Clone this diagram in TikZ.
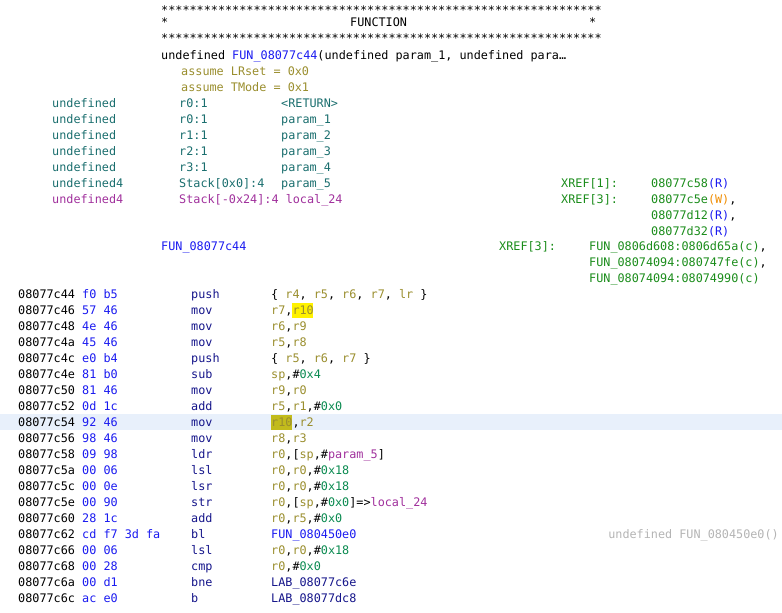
\documentclass[tikz,border=0pt]{standalone}
\usepackage{fontspec}
\setmonofont{DejaVu Sans Mono}
\definecolor{teal}{HTML}{1A6E6E}
\definecolor{olv}{HTML}{9A8E2E}
\definecolor{imm}{HTML}{0A8A50}
\definecolor{blu}{HTML}{1A1AF0}
\definecolor{navy}{HTML}{15158A}
\definecolor{mag}{HTML}{A0309C}
\definecolor{xgrn}{HTML}{1A8C1A}
\definecolor{org}{HTML}{F08C00}
\definecolor{gry}{HTML}{B4B4B4}
\definecolor{rowhl}{HTML}{E8F0FB}
\newcommand{\rg}[1]{\textcolor{olv}{#1}}
\newcommand{\im}[1]{\textcolor{imm}{#1}}
\begin{document}
\begin{tikzpicture}[x=1pt,y=-1pt,
  txt/.style={anchor=base west,inner sep=0pt,font=\ttfamily\fontsize{11.8}{14}\selectfont}]
		\useasboundingbox (0,0) rectangle (782,613);
		\fill[rowhl] (0,414) rectangle (782,430);
		\fill[yellow] (292,303) rectangle (313,318);
		\fill[olv!60!yellow] (271,415) rectangle (292,430);

		% header
		\node[txt] at (161,14) {**************************************************************};
		\node[txt] at (161,26) {*};
		\node[txt] at (350,26) {FUNCTION};
		\node[txt] at (589,26) {*};
		\node[txt] at (161,42) {**************************************************************};
		\node[txt] at (161,59) {undefined \textcolor{blu}{FUN\_08077c44}(undefined param\_1, undefined para\ldots};
		\node[txt,olv] at (181,75) {assume LRset = 0x0};
		\node[txt,olv] at (181,91) {assume TMode = 0x1};

		\node[txt,teal] at (52,107) {undefined};  \node[txt,teal] at (179,107) {r0:1};  \node[txt,teal] at (281,107) {<RETURN>};
		\node[txt,teal] at (52,123) {undefined};  \node[txt,teal] at (179,123) {r0:1};  \node[txt,teal] at (281,123) {param\_1};
		\node[txt,teal] at (52,139) {undefined};  \node[txt,teal] at (179,139) {r1:1};  \node[txt,teal] at (281,139) {param\_2};
		\node[txt,teal] at (52,155) {undefined};  \node[txt,teal] at (179,155) {r2:1};  \node[txt,teal] at (281,155) {param\_3};
		\node[txt,teal] at (52,171) {undefined};  \node[txt,teal] at (179,171) {r3:1};  \node[txt,teal] at (281,171) {param\_4};
		\node[txt,teal] at (52,187) {undefined4}; \node[txt,teal] at (179,187) {Stack[0x0]:4}; \node[txt,teal] at (281,187) {param\_5};
		\node[txt,mag] at (52,203) {undefined4};  \node[txt,mag] at (179,203) {Stack[-0x24]:4 local\_24};

		% xrefs
		\node[txt,xgrn] at (561,187) {XREF[1]:};
		\node[txt,xgrn] at (651,187) {08077c58\textcolor{blu}{(R)}};
		\node[txt,xgrn] at (561,203) {XREF[3]:};
		\node[txt,xgrn] at (651,203) {08077c5e\textcolor{org}{(W)}\textcolor{black}{,}};
		\node[txt,xgrn] at (651,219) {08077d12\textcolor{blu}{(R)}\textcolor{black}{,}};
		\node[txt,xgrn] at (651,235) {08077d32\textcolor{blu}{(R)}};

		\node[txt,blu] at (161,250) {FUN\_08077c44};
		\node[txt,xgrn] at (499,250) {XREF[3]:};
		\node[txt,xgrn] at (589,250) {FUN\_0806d608:0806d65a(c)\textcolor{black}{,}};
		\node[txt,xgrn] at (589,266) {FUN\_08074094:080747fe(c)\textcolor{black}{,}};
		\node[txt,xgrn] at (589,282) {FUN\_08074094:08074990(c)};

		% listing
		\foreach \y/\ad/\by/\mn/\op in {
			298/44/f0 b5/push/{\{ \rg{r4}, \rg{r5}, \rg{r6}, \rg{r7}, \rg{lr} \}},
			314/46/57 46/mov/{\rg{r7},\rg{r10}},
			330/48/4e 46/mov/{\rg{r6},\rg{r9}},
			346/4a/45 46/mov/{\rg{r5},\rg{r8}},
			362/4c/e0 b4/push/{\{ \rg{r5}, \rg{r6}, \rg{r7} \}},
			378/4e/81 b0/sub/{\rg{sp},\#\im{0x4}},
			394/50/81 46/mov/{\rg{r9},\rg{r0}},
			410/52/0d 1c/add/{\rg{r5},\rg{r1},\#\im{0x0}},
			426/54/92 46/mov/{\rg{r10},\rg{r2}},
			442/56/98 46/mov/{\rg{r8},\rg{r3}},
			458/58/09 98/ldr/{\rg{r0},[\rg{sp},\#\textcolor{mag}{param\_5}]},
			474/5a/00 06/lsl/{\rg{r0},\rg{r0},\#\im{0x18}},
			490/5c/00 0e/lsr/{\rg{r0},\rg{r0},\#\im{0x18}},
			506/5e/00 90/str/{\rg{r0},[\rg{sp},\#\im{0x0}]=>\textcolor{mag}{local\_24}},
			522/60/28 1c/add/{\rg{r0},\rg{r5},\#\im{0x0}},
			538/62/cd f7 3d fa/bl/{\textcolor{blu}{FUN\_080450e0}},
			554/66/00 06/lsl/{\rg{r0},\rg{r0},\#\im{0x18}},
			570/68/00 28/cmp/{\rg{r0},\#\im{0x0}},
			586/6a/00 d1/bne/{\textcolor{navy}{LAB\_08077c6e}},
			602/6c/ac e0/b/{\textcolor{navy}{LAB\_08077dc8}}} {
			\node[txt] at (18,\y) {08077c\ad};
			\node[txt,blu] at (82,\y) {\by};
			\node[txt,navy] at (191,\y) {\mn};
			\node[txt] at (271,\y) {\op};
		}
		\node[txt,gry,anchor=base east] at (779,538) {undefined FUN\_080450e0()};
	\end{tikzpicture}
\end{document}
